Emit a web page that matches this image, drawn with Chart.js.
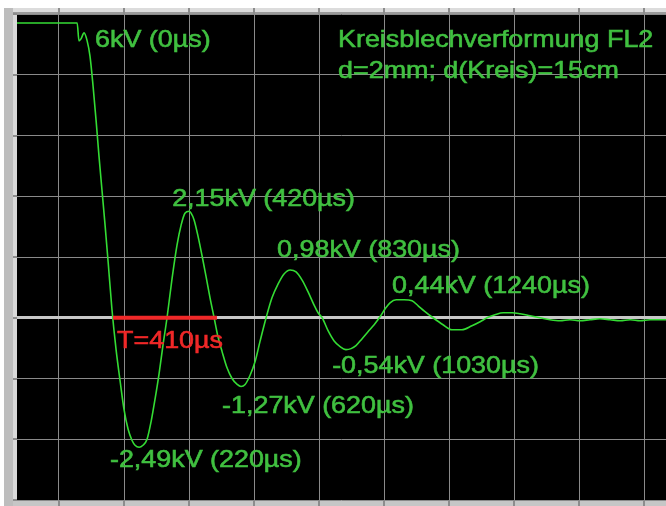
<!DOCTYPE html>
<html>
<head>
<meta charset="utf-8">
<script src="https://cdn.jsdelivr.net/npm/chart.js@4/dist/chart.umd.min.js"></script>
<style>
  html, body { margin: 0; padding: 0; background: #ffffff; }
  #wrap { width: 666px; height: 506px; }
</style>
</head>
<body>
<div id="wrap"><canvas id="c" width="666" height="506"></canvas></div>
<script>
// ---- Data ----
// time in microseconds, voltage in kV
const timeUs = [-258,-23,-16,-8,4,16,27,39,51,62,74,86,98,113,129,145,160,176,191,203,219,234,250,266,281,297,312,328,348,367,383,398,414,422,434,449,465,480,496,512,527,543,562,582,602,617,633,652,672,691,715,738,762,785,809,832,855,879,902,918,934,957,980,1004,1027,1047,1066,1090,1113,1137,1160,1180,1199,1223,1254,1285,1309,1332,1367,1406,1441,1480,1519,1551,1578,1609,1641,1676,1707,1746,1785,1824,1863,1902,1941,1980,2019,2059,2098,2137,2176,2215,2277];
const voltageKv = [5.92,5.92,5.56,5.60,5.72,5.56,5.26,4.66,3.96,3.26,2.56,1.86,1.12,0.16,-0.64,-1.28,-1.84,-2.24,-2.46,-2.56,-2.60,-2.56,-2.44,-2.08,-1.64,-1.12,-0.56,0,0.80,1.46,1.86,2.10,2.14,2.10,1.96,1.64,1.24,0.84,0.40,0,-0.38,-0.68,-1.00,-1.22,-1.34,-1.38,-1.34,-1.16,-0.88,-0.48,0,0.40,0.68,0.88,0.96,0.92,0.76,0.52,0.26,0.10,0,-0.26,-0.46,-0.58,-0.64,-0.62,-0.56,-0.42,-0.28,-0.14,0.02,0.18,0.30,0.36,0.36,0.34,0.24,0.14,0,-0.14,-0.24,-0.24,-0.16,-0.08,0,0.06,0.10,0.10,0.08,0.04,0,-0.04,-0.06,-0.04,-0.06,-0.04,-0.02,-0.04,-0.06,-0.04,-0.06,-0.04,-0.04];

// period marker (T = 410 µs) drawn on the zero line
const periodMarkerUs = [117, 523];
const periodMarkerKv = [0, 0];

// grid divisions of the scope screen
const xGridUs = [-94,160,414,668,922,1176,1430,1684,1938,2192];
const yGridKv = [-3.66,-2.44,-1.22,0,1.22,2.44,3.66,4.88,6.1];
const xRange = [-258, 2277];
const yRange = [-3.66, 6.1];

// annotation texts
const peakLabels = ['6kV (0µs)','2,15kV (420µs)','0,98kV (830µs)','0,44kV (1240µs)','-0,54kV (1030µs)','-1,27kV (620µs)','-2,49kV (220µs)'];
const titleLines = ['Kreisblechverformung FL2','d=2mm; d(Kreis)=15cm'];
const periodLabel = 'T=410µs';

// ---- layout / style of annotations (anchors in data coordinates) ----
const peakAnchors = [[47,5.44],[348,2.24],[758,1.22],[1207,0.50],[973,-1.11],[543,-1.91],[105,-3.00]];
const titleAnchors = [[996,5.44],[996,4.81]];
const periodAnchor = [133,-0.61];
const GREEN_TEXT = '#40c040';
const RED = '#f02828';
const FONT = '24px "Liberation Sans", Arial, sans-serif';
const STRETCH = 1.12;

const tracePoints = timeUs.map((t,i)=>({x:t, y:voltageKv[i]}));
const markerPoints = periodMarkerUs.map((t,i)=>({x:t, y:periodMarkerKv[i]}));

const frame = {
  id: 'frame',
  beforeDraw(chart) {
    const ctx = chart.ctx, a = chart.chartArea;
    ctx.save();
    ctx.fillStyle = '#ffffff';
    ctx.fillRect(0,0,chart.width,chart.height);
    // left bezel
    ctx.fillStyle = '#bdbdbd'; ctx.fillRect(4,8,9,chart.height-8);
    ctx.fillStyle = '#d9d9d9'; ctx.fillRect(13,8,4,chart.height-8);
    // top bezel
    ctx.fillStyle = '#dcdcdc'; ctx.fillRect(13,8,chart.width-13,4);
    ctx.fillStyle = '#9a9a9a'; ctx.fillRect(13,12,chart.width-13,2);
    // bottom bezel
    ctx.fillStyle = '#c6c6c6'; ctx.fillRect(13,a.bottom,chart.width-13,chart.height-a.bottom);
    ctx.fillStyle = '#e0e0e0'; ctx.fillRect(13,a.bottom,chart.width-13,1);
    // screen
    ctx.fillStyle = '#000000';
    ctx.fillRect(a.left,a.top,a.right-a.left,a.bottom-a.top);
    ctx.restore();
  },
  afterDraw(chart) {
    const ctx = chart.ctx, a = chart.chartArea;
    const xs = chart.scales.x, ys = chart.scales.y;
    ctx.save();
    // bezel tick marks at the grid divisions
    ctx.fillStyle = '#8c8c8c';
    xs.ticks.forEach(t => {
      const px = Math.round(xs.getPixelForValue(t.value));
      ctx.fillRect(px-1, a.bottom+1, 2, chart.height-a.bottom-1);
      ctx.fillRect(px-1, 8, 2, 6);
    });
    ys.ticks.forEach(t => {
      const py = Math.round(ys.getPixelForValue(t.value));
      ctx.fillRect(13, py-1, 4, 2);
    });
    // texts
    ctx.font = FONT;
    ctx.textBaseline = 'alphabetic';
    ctx.textAlign = 'left';
    const put = (txt, anchor, color) => {
      const px = xs.getPixelForValue(anchor[0]);
      const py = ys.getPixelForValue(anchor[1]);
      ctx.save();
      ctx.translate(px, py);
      ctx.scale(STRETCH, 1);
      ctx.fillStyle = color;
      ctx.strokeStyle = color;
      ctx.lineWidth = 0.6;
      ctx.fillText(txt, 0, 0);
      ctx.strokeText(txt, 0, 0);
      ctx.restore();
    };
    peakLabels.forEach((s,i)=>put(s, peakAnchors[i], GREEN_TEXT));
    titleLines.forEach((s,i)=>put(s, titleAnchors[i], GREEN_TEXT));
    put(periodLabel, periodAnchor, RED);
    ctx.restore();
  }
};

new Chart(document.getElementById('c'), {
  type: 'line',
  data: {
    datasets: [
      {
        label: 'U(t)',
        data: tracePoints,
        borderColor: '#34dc34',
        borderWidth: 1.6,
        pointRadius: 0,
        cubicInterpolationMode: 'monotone',
        fill: false,
        order: 2
      },
      {
        label: 'T',
        data: markerPoints,
        borderColor: RED,
        borderWidth: 4,
        pointRadius: 0,
        fill: false,
        order: 1
      }
    ]
  },
  options: {
    responsive: false,
    animation: false,
    devicePixelRatio: 1,
    layout: { padding: { left: 17, top: 14, right: 0, bottom: 0 } },
    plugins: { legend: { display: false }, tooltip: { enabled: false }, title: { display: false } },
    scales: {
      x: {
        type: 'linear',
        min: xRange[0], max: xRange[1],
        afterBuildTicks: s => { s.ticks = xGridUs.map(v => ({value: v})); },
        afterFit: s => { s.height = 6; },
        ticks: { display: false },
        border: { display: false },
        grid: { color: '#8a8a8a', lineWidth: 1, drawTicks: false, tickLength: 0 }
      },
      y: {
        type: 'linear',
        min: yRange[0], max: yRange[1],
        afterBuildTicks: s => { s.ticks = yGridKv.map(v => ({value: v})); },
        afterFit: s => { s.width = 0; },
        ticks: { display: false },
        border: { display: false },
        grid: {
          color: c => (c.tick && c.tick.value === 0) ? '#c8c8c8' : '#8a8a8a',
          lineWidth: c => (c.tick && c.tick.value === 0) ? 3 : 1,
          drawTicks: false, tickLength: 0
        }
      }
    }
  },
  plugins: [frame]
});
</script>
</body>
</html>
